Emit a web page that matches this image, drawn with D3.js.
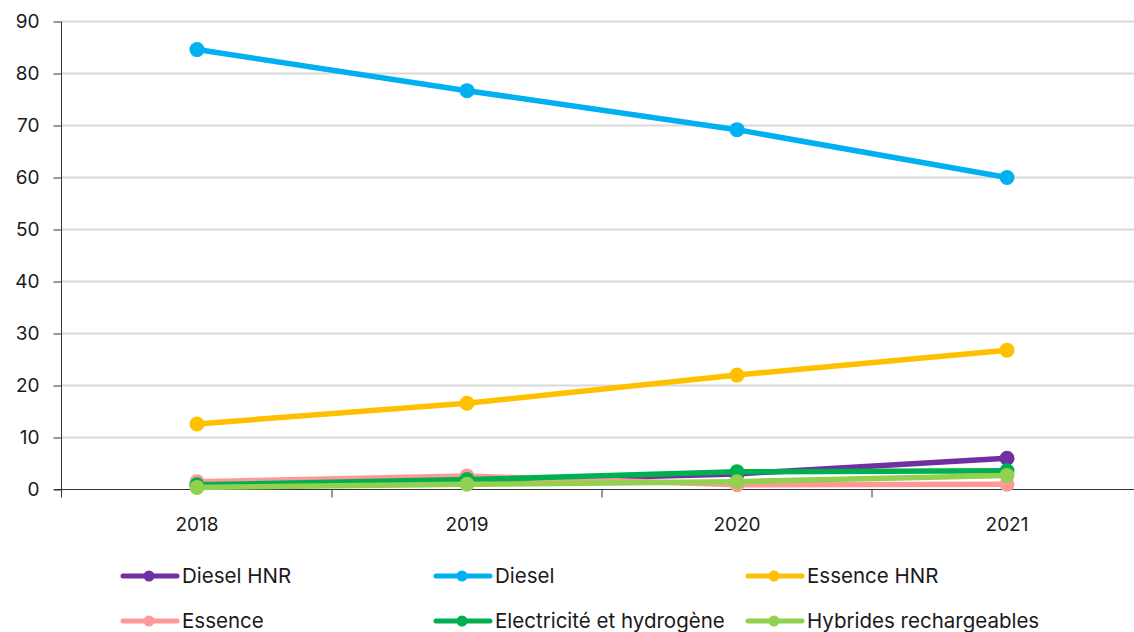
<!DOCTYPE html>
<html>
<head>
<meta charset="utf-8">
<script src="https://cdn.jsdelivr.net/npm/d3@7"></script>
<style>
  body { margin: 0; background: #fff; }
  svg text { font-family: "Inter", "Noto Sans", sans-serif; fill: #1a1a1a; }
</style>
</head>
<body>
<div id="chart"></div>
<script>
// chart data
const years = ["2018", "2019", "2020", "2021"];
const series_names = ["Diesel HNR", "Diesel", "Essence HNR", "Essence", "Electricité et hydrogène", "Hybrides rechargeables"];
const series_colors = ["#7030a0", "#00b0f0", "#ffc000", "#ff9999", "#00b050", "#92d050"];
const diesel_hnr = [0.7, 1.6, 3.0, 6.0];
const diesel = [84.6, 76.7, 69.2, 60.0];
const essence_hnr = [12.6, 16.6, 22.0, 26.8];
const essence = [1.5, 2.6, 0.9, 1.0];
const electricite = [0.9, 1.9, 3.4, 3.6];
const hybrides = [0.4, 1.0, 1.5, 2.7];
const y_ticks = [0, 10, 20, 30, 40, 50, 60, 70, 80, 90];

const all_series = [diesel_hnr, diesel, essence_hnr, essence, electricite, hybrides];

const width = 1134, height = 632;
const margin = {top: 21.5, right: -8, bottom: 142.5, left: 62};

const svg = d3.select("#chart").append("svg")
  .attr("width", width)
  .attr("height", height);

const x = d3.scaleBand()
  .domain(years)
  .range([margin.left, width - margin.right]);

const y = d3.scaleLinear()
  .domain([0, 90])
  .range([height - margin.bottom, margin.top]);

// grid lines
svg.append("g")
  .selectAll("line")
  .data(y_ticks.filter(d => d > 0))
  .join("line")
    .attr("x1", margin.left)
    .attr("x2", width)
    .attr("y1", d => y(d))
    .attr("y2", d => y(d))
    .attr("stroke", "#d9d9d9")
    .attr("stroke-width", 2);

// y axis
const yAxis = svg.append("g")
  .attr("transform", "translate(" + (margin.left - 0.5) + ",0)")
  .call(d3.axisLeft(y).tickValues(y_ticks).tickSize(8).tickPadding(14));
yAxis.select(".domain").attr("stroke", "#333").attr("d", "M0," + (y(0) + 8) + "V" + y(90));
yAxis.selectAll(".tick line").attr("stroke", "#333");
yAxis.selectAll("text").style("font-size", "19px").attr("fill", "#1a1a1a");

// x axis with ticks between categories
const xAxis = svg.append("g")
  .attr("transform", "translate(0," + y(0) + ")");
xAxis.append("line")
  .attr("x1", margin.left - 8)
  .attr("x2", width)
  .attr("stroke", "#333");
xAxis.selectAll(".sep")
  .data(years.slice(1))
  .join("line")
    .attr("class", "sep")
    .attr("x1", d => x(d))
    .attr("x2", d => x(d))
    .attr("y1", 0)
    .attr("y2", 8)
    .attr("stroke", "#333");
xAxis.selectAll(".lbl")
  .data(years)
  .join("text")
    .attr("class", "lbl")
    .attr("x", d => x(d) + x.bandwidth() / 2)
    .attr("y", 41)
    .attr("text-anchor", "middle")
    .style("font-size", "19px")
    .text(d => d);

// lines and markers
const line = d3.line()
  .x((d, i) => x(years[i]) + x.bandwidth() / 2)
  .y(d => y(d));

all_series.forEach(function(values, k) {
  const g = svg.append("g");
  g.append("path")
    .datum(values)
    .attr("d", line)
    .attr("fill", "none")
    .attr("stroke", series_colors[k])
    .attr("stroke-width", 5.5)
    .attr("stroke-linejoin", "round");
  g.selectAll("circle")
    .data(values)
    .join("circle")
      .attr("cx", (d, i) => x(years[i]) + x.bandwidth() / 2)
      .attr("cy", d => y(d))
      .attr("r", 7.5)
      .attr("fill", series_colors[k]);
});

// legend
const legend_x = [121, 434, 746];
const legend_y = [576, 621];
const legend = svg.append("g");
series_names.forEach(function(name, k) {
  const lx = legend_x[k % 3], ly = legend_y[Math.floor(k / 3)];
  const item = legend.append("g").attr("transform", "translate(" + lx + "," + ly + ")");
  item.append("line")
    .attr("x1", 2).attr("x2", 56)
    .attr("stroke", series_colors[k])
    .attr("stroke-width", 5)
    .attr("stroke-linecap", "round");
  item.append("circle")
    .attr("cx", 28).attr("r", 5.5)
    .attr("fill", series_colors[k]);
  item.append("text")
    .attr("x", 61)
    .attr("dy", "0.35em")
    .style("font-size", "20.5px")
    .text(name);
});
</script>
</body>
</html>
